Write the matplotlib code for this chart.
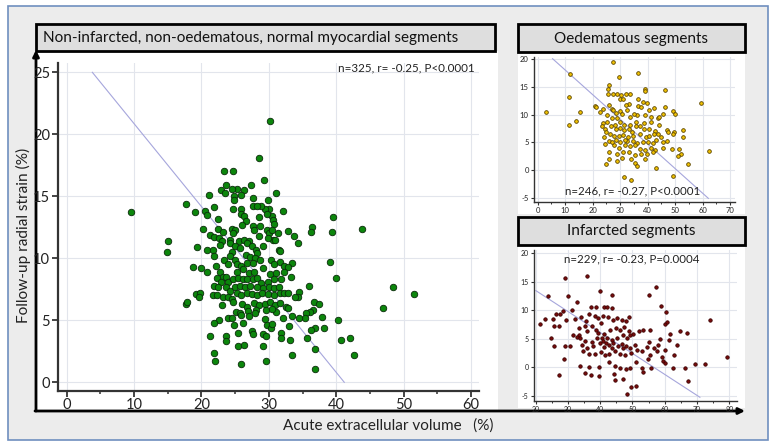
import numpy as np
import matplotlib
matplotlib.use('Agg')
import matplotlib.pyplot as plt
from matplotlib.patches import Rectangle

plt.rcParams['font.family'] = ['Lato', 'DejaVu Sans']
plt.rcParams['axes.unicode_minus'] = False

# ---------------- data ----------------
normal_title = "Non-infarcted, non-oedematous, normal myocardial segments"
oedema_title = "Oedematous segments"
infarct_title = "Infarcted segments"
normal_stat = "n=325, r= -0.25, P<0.0001"
oedema_stat = "n=246, r= -0.27, P<0.0001"
infarct_stat = "n=229, r= -0.23, P=0.0004"
x_label = "Acute extracellular volume   (%)"
y_label = "Follow-up radial strain (%)"

normal_pts = [
    (30.2,21.1),(28.6,18.1),(29.3,16.3),(23.3,17.0),(24.7,17.0),(17.7,14.4),(9.6,13.7),(15.0,11.4),(14.9,10.5),
    (19.3,10.9),(19.0,13.7),(21.1,15.1),(20.3,12.4),(18.7,9.3),(20.0,9.2),(20.8,8.9),(17.7,6.3),(17.9,6.5),
    (19.2,7.1),(19.8,7.2),(19.6,6.9),(21.2,3.7),(21.8,2.4),(22.0,1.7),(25.9,1.5),(29.6,1.7),(36.9,1.1),
    (36.9,2.7),(33.5,2.2),(42.7,2.2),(40.7,3.4),(42.0,3.6),(40.2,5.0),(46.9,6.0),(48.5,7.7),(51.6,7.1),
    (43.8,12.4),(39.5,13.3),(39.4,12.1),(36.4,12.5),(36.3,12.1),(39.1,9.7),(39.9,8.4),(35.9,7.8),(36.7,6.5),
    (37.5,6.3),(37.9,5.3),(38.2,4.4),(36.8,4.4),(36.3,4.2),(35.6,3.6),(36.6,5.8),(36.1,5.7),(35.5,5.6),
    (35.3,5.2),(34.5,5.2),(34.5,7.3),(34.3,6.9),(33.9,6.9),(33.3,8.5),(33.5,9.6),(32.9,12.2),(33.7,11.8),
    (34.4,11.2),(32.1,13.8),(31.1,15.3),(30.4,13.4),(29.9,14.7),(30.1,14.0),(29.5,14.0),(28.9,14.2),
    (27.6,14.2),(28.2,14.2),(27.3,15.9),(26.3,15.5),(25.3,15.6),(24.5,15.6),(23.6,15.9),(22.9,15.5),
    (23.5,15.3),(24.8,15.0),(24.8,14.7),(25.9,15.1),(27.6,14.9),(24.7,14.0),(21.8,14.1),(20.5,13.8),
    (20.8,13.5),(22.5,13.2),(25.8,14.0),(25.8,13.6),(26.3,13.4),(28.5,13.3),(29.7,13.6),(30.6,13.1),
    (30.7,12.8),(26.6,13.0),(26.0,12.7),(22.4,12.4),(23.2,12.1),(24.5,12.4),(25.0,12.3),(24.7,12.0),
    (27.6,12.6),(27.8,12.3),(28.7,12.6),(29.7,12.3),(30.0,12.0),(30.5,12.3),(31.3,12.0),(30.6,11.5),
    (29.9,11.6),(30.9,11.5),(28.5,11.8),(21.3,11.9),(21.8,11.7),(22.6,11.6),(23.1,11.4),(24.3,11.5),
    (25.6,11.4),(26.3,11.5),(27.0,11.4),(22.7,11.1),(24.3,11.2),(25.0,11.0),(26.7,11.2),(27.5,11.0),
    (29.2,11.0),(25.7,10.8),(20.8,10.7),(21.7,10.7),(24.5,10.5),(21.9,10.2),(23.4,9.9),(24.2,10.2),
    (25.0,9.9),(26.6,10.3),(27.2,10.1),(28.1,10.7),(28.3,10.4),(28.0,10.0),(28.7,9.9),(31.5,10.7),
    (31.7,10.6),(30.3,9.9),(30.8,9.5),(31.6,9.7),(32.3,9.4),(32.8,9.3),(32.2,8.9),(22.1,9.4),(23.9,9.5),
    (25.3,9.5),(25.8,9.4),(26.7,9.6),(27.7,9.6),(22.7,8.9),(23.2,8.5),(22.3,8.4),(23.6,8.5),(25.3,8.9),
    (26.1,9.1),(27.0,8.8),(27.8,8.9),(29.1,9.2),(30.2,8.7),(31.0,8.8),(31.8,8.3),(21.8,7.8),(22.9,8.1),
    (23.9,8.1),(24.75,8.3),(25.4,8.4),(26.1,8.3),(26.8,8.3),(27.6,8.3),(28.2,8.4),(28.8,8.0),(29.95,8.1),
    (30.7,8.3),(22.5,7.7),(23.6,7.7),(24.3,7.4),(25.0,7.7),(25.7,7.8),(26.4,7.7),(27.2,7.8),(28.3,7.7),
    (29.2,7.6),(30.1,7.7),(30.8,7.6),(31.5,7.7),(21.7,7.0),(22.3,7.0),(23.2,6.9),(23.9,6.9),(24.5,6.7),
    (25.35,7.2),(25.9,7.0),(26.7,7.2),(27.5,7.1),(28.2,7.0),(29.0,7.2),(29.9,7.1),(30.8,7.0),(31.6,7.2),
    (32.3,7.2),(32.8,7.2),(23.0,6.2),(24.75,6.5),(25.95,6.3),(26.7,6.1),(27.8,6.4),(28.5,6.2),(29.5,6.3),
    (30.2,6.5),(30.95,6.2),(31.7,6.4),(32.6,6.1),(29.6,5.8),(31.0,5.7),(30.4,5.9),(32.1,5.2),(32.8,6.0),
    (25.1,5.7),(25.7,5.6),(26.9,5.75),(28.1,5.8),(27.9,5.6),(23.9,5.2),(24.6,5.2),(22.6,5.0),(21.8,4.8),
    (24.9,4.6),(25.9,5.4),(26.2,4.8),(27.1,5.35),(29.5,5.1),(29.7,4.6),(30.3,4.35),(30.4,4.7),(33.0,4.5),
    (33.4,5.35),(25.4,4.0),(27.5,4.1),(27.6,3.9),(29.2,3.9),(29.6,3.7),(31.8,4.0),(31.8,3.6),(33.2,3.4),
    (23.6,3.7),(23.6,3.3),(25.45,2.9),(26.3,3.0),(29.1,2.9),
]

oedema_pts = [
    (27.3,19.4),(11.8,17.3),(36.4,17.4),(29.6,16.7),(11.3,13.2),(3.0,10.5),(11.4,8.1),(14.1,8.8),(15.3,10.5),
    (59.3,12.1),(62.5,3.5),(46.5,14.4),(39.1,14.5),(39.2,14.3),(26.0,15.3),(25.5,14.6),(27.5,13.7),(29.0,13.7),
    (30.2,13.5),(32.0,13.7),(33.6,13.7),(29.8,12.7),(30.9,12.7),(33.1,11.8),(25.4,13.6),(21.0,11.6),(21.1,11.3),
    (23.7,11.0),(26.1,11.7),(26.9,11.0),(22.7,10.5),(25.2,10.0),(27.4,10.8),(28.5,10.3),(30.0,10.6),(30.5,10.1),
    (32.0,11.7),(32.4,10.8),(33.6,9.6),(36.4,12.8),(36.6,11.6),(38.5,12.3),(39.7,12.1),(40.6,10.8),(42.3,11.1),
    (37.7,11.4),(36.3,10.0),(35.1,10.1),(39.2,9.9),(41.2,9.5),(43.6,9.4),(46.2,11.4),(49.3,10.6),(50.0,10.1),
    (45.6,10.1),(44.0,9.5),(41.1,8.6),(38.6,8.4),(35.8,8.7),(33.6,8.1),(34.3,6.9),(31.5,8.1),(30.0,8.7),
    (29.0,9.4),(27.2,9.3),(25.3,8.7),(23.8,8.4),(23.3,8.0),(24.5,7.4),(26.8,7.9),(28.1,8.2),(28.6,7.5),
    (30.0,7.6),(31.4,7.2),(33.1,7.4),(35.8,8.0),(37.2,7.9),(38.7,7.4),(40.5,7.4),(42.7,7.1),(44.0,8.2),
    (47.0,7.3),(47.4,6.9),(49.6,6.8),(53.0,7.2),(52.8,5.9),(49.3,6.6),(24.9,6.8),(26.3,6.5),(27.8,6.2),
    (29.5,6.2),(30.9,6.3),(32.9,6.0),(34.8,6.1),(37.2,6.5),(39.4,6.0),(40.6,6.2),(42.3,6.5),(43.8,6.6),
    (44.8,6.0),(24.3,6.0),(25.8,5.3),(28.4,5.4),(30.0,5.0),(32.4,5.3),(34.8,5.3),(36.3,4.85),(38.5,5.0),
    (40.3,5.1),(41.9,4.85),(43.1,5.45),(45.5,5.1),(47.2,5.3),(24.5,4.7),(27.8,4.5),(29.7,4.1),(31.7,4.6),
    (33.6,4.3),(35.5,4.6),(37.2,3.8),(39.1,3.6),(41.1,4.0),(42.8,3.6),(45.7,4.0),(48.7,3.9),(51.4,3.9),
    (52.0,3.0),(51.0,2.5),(54.8,1.1),(49.3,-1.0),(33.8,-1.7),(31.4,-1.1),(26.1,3.35),(28.7,2.9),(30.8,2.3),
    (33.2,3.35),(35.5,2.75),(37.7,3.0),(39.9,3.0),(42.1,3.35),(31.2,3.35),(24.9,1.1),(25.8,2.0),(29.0,1.65),
    (33.8,2.0),(35.5,1.25),(36.0,0.8),(39.2,2.0),(43.1,0.5),(31.9,5.5),(27.2,5.0),
]

infarct_pts = [
    (36.0,16.0),(29.2,15.65),(57.3,14.0),(55.0,12.7),(23.9,12.45),(30.1,12.45),(39.8,13.4),(43.6,12.6),
    (32.7,11.5),(58.7,10.75),(31.4,10.1),(28.6,9.9),(37.1,10.6),(38.6,10.6),(41.2,10.6),(42.2,10.6),
    (43.6,10.35),(60.5,9.6),(74.0,8.2),(21.5,7.55),(22.9,8.5),(25.3,8.4),(26.4,9.3),(27.7,9.3),(29.4,8.25),
    (25.7,7.2),(27.1,7.3),(24.8,5.2),(25.7,3.7),(29.2,3.8),(30.6,3.7),(28.8,1.5),(27.3,-1.4),(31.7,5.6),
    (33.3,5.6),(32.2,8.5),(34.2,8.8),(35.6,8.1),(36.4,9.3),(38.5,8.95),(39.4,8.6),(40.2,7.7),(40.9,8.9),
    (42.4,8.8),(44.0,8.3),(45.3,8.6),(46.7,8.3),(48.1,8.1),(49.0,8.8),(35.2,7.3),(37.4,7.3),(38.7,6.6),
    (33.5,6.9),(32.7,5.4),(35.8,6.3),(33.7,5.1),(39.3,6.0),(41.2,5.8),(43.0,6.6),(44.9,6.9),(46.1,6.6),
    (47.4,7.0),(48.8,6.4),(50.3,5.8),(51.9,6.4),(53.4,6.6),(55.4,6.5),(49.3,5.6),(48.3,5.1),(47.1,5.6),
    (45.3,5.1),(43.8,4.8),(42.2,5.1),(40.5,5.2),(39.0,5.1),(37.4,4.5),(35.4,4.65),(34.5,4.0),(35.8,3.4),
    (37.8,3.8),(39.9,4.2),(40.9,4.65),(41.7,4.3),(42.8,4.0),(44.1,4.2),(45.5,3.8),(46.7,4.1),(48.1,3.8),
    (49.4,3.4),(50.8,4.0),(55.2,4.5),(56.7,3.4),(57.9,4.0),(61.2,4.85),(63.7,3.9),(64.7,6.3),(67.0,6.0),
    (61.6,5.8),(60.0,7.5),(60.6,7.85),(34.8,2.8),(36.4,2.3),(38.5,2.4),(40.4,2.7),(41.4,2.2),(42.8,2.3),
    (44.5,2.8),(46.1,2.3),(47.8,2.2),(49.6,2.6),(51.3,3.0),(52.9,2.8),(54.6,3.6),(55.4,2.1),(54.8,1.4),
    (59.5,1.2),(60.2,0.75),(66.4,-0.1),(69.5,0.6),(72.4,0.6),(79.4,1.9),(57.5,2.9),(59.3,1.9),(36.6,0.0),
    (39.7,0.1),(42.6,0.9),(44.6,0.2),(46.3,-0.1),(48.1,-0.2),(49.4,-0.1),(51.1,0.9),(52.9,-0.1),(53.4,-0.8),
    (35.2,-1.05),(37.2,-1.4),(39.5,-1.5),(33.7,0.2),(44.3,-1.2),(44.7,-2.15),(47.2,-2.0),(49.6,-3.4),
    (51.1,-3.3),(48.2,-4.6),(55.7,-0.1),(62.5,-0.1),(62.9,2.1),(67.2,-2.4),(58.5,5.0),(60.0,3.0),(47.1,3.4),
    (43.6,3.4),(41.2,3.5),
]

# regression lines (end points)
normal_line_x = [3.8, 41.2]
normal_line_y = [25.0, 0.0]
oedema_line_x = [5.4, 62.1]
oedema_line_y = [20.0, -5.0]
infarct_line_x = [20.1, 70.9]
infarct_line_y = [13.4, -5.2]

normal_xticks = [0, 10, 20, 30, 40, 50, 60]
normal_yticks = [0, 5, 10, 15, 20, 25]
oedema_xticks = [0, 10, 20, 30, 40, 50, 60, 70]
oedema_yticks = [-5, 0, 5, 10, 15, 20]
infarct_xticks = [20, 30, 40, 50, 60, 70, 80]
infarct_yticks = [-5, 0, 5, 10, 15, 20]

# ---------------- figure ----------------
W, H = 778, 447
fig = plt.figure(figsize=(W / 100, H / 100), dpi=100)

bg = fig.add_axes([0, 0, 1, 1])
bg.set_xlim(0, W)
bg.set_ylim(H, 0)
bg.axis('off')


def box(l, t, r, b):
    return [l / W, 1 - b / H, (r - l) / W, (b - t) / H]


bg.add_patch(Rectangle((8, 6), 760, 434, facecolor='#ececec', edgecolor='#6f8fbf', lw=1.2))
bg.add_patch(Rectangle((36, 51), 462, 360, facecolor='white', edgecolor='none'))
bg.add_patch(Rectangle((518, 52), 227, 162, facecolor='white', edgecolor='none'))
bg.add_patch(Rectangle((518, 245), 227, 163, facecolor='white', edgecolor='none'))

# title boxes
bg.add_patch(Rectangle((36, 24), 459, 27, facecolor='#dedede', edgecolor='black', lw=2, zorder=3))
bg.add_patch(Rectangle((518, 24), 227, 28, facecolor='#dedede', edgecolor='black', lw=2, zorder=3))
bg.add_patch(Rectangle((518, 217), 227, 28, facecolor='#dedede', edgecolor='black', lw=2, zorder=3))
bg.text(43, 38, normal_title, fontsize=11, ha='left', va='center', color='#111111', zorder=4)
bg.text(631.5, 38.5, oedema_title, fontsize=11, ha='center', va='center', color='#111111', zorder=4)
bg.text(631.5, 231.5, infarct_title, fontsize=11, ha='center', va='center', color='#111111', zorder=4)

# L-shaped arrows
arrow = dict(arrowstyle='-|>', color='black', lw=2, mutation_scale=9, shrinkA=0, shrinkB=0)
bg.annotate('', xy=(36, 50), xytext=(36, 411), arrowprops=arrow)
bg.annotate('', xy=(745, 411), xytext=(35, 411), arrowprops=arrow)

# axis labels
bg.text(23, 235, y_label, fontsize=11.1, rotation=90, ha='center', va='center', color='#222222')
bg.text(494, 426, x_label, fontsize=11, ha='right', va='center', color='#222222')


def panel(rect, pts, xlim, ylim, xticks, yticks, lx, ly, color, edge, s, fs, spine_lw, tlen):
    ax = fig.add_axes(box(*rect))
    ax.set_facecolor('none')
    ax.set_xlim(*xlim)
    ax.set_ylim(*ylim)
    ax.set_xticks(xticks)
    ax.set_yticks(yticks)
    ax.set_xticks([t + 5 for t in xticks[:-1]], minor=True)
    ax.grid(True, which='major', color='#e2e5ec', lw=0.8)
    ax.set_axisbelow(True)
    for sp in ['top', 'right']:
        ax.spines[sp].set_visible(False)
    for sp in ['left', 'bottom']:
        ax.spines[sp].set_color('#333333')
        ax.spines[sp].set_linewidth(spine_lw)
    ax.tick_params(which='major', direction='out', length=tlen, width=spine_lw * 0.8,
                   color='#333333', labelsize=fs, labelcolor='#222222', pad=1.5)
    ax.tick_params(which='minor', direction='out', length=tlen * 0.6, width=spine_lw * 0.7,
                   color='#333333')
    ax.plot(lx, ly, color='#a6a6dc', lw=0.8, zorder=2)
    xs = [p[0] for p in pts]
    ys = [p[1] for p in pts]
    ax.scatter(xs, ys, s=s, c=color, edgecolors=edge, linewidths=0.6, zorder=3)
    return ax


ax1 = panel((57.7, 63, 479, 390.7), normal_pts, (-1.34, 61.2), (-0.68, 25.75),
            normal_xticks, normal_yticks, normal_line_x, normal_line_y,
            '#0c860c', '#0a2a0a', 22, 10.5, 1.6, 4)
ax1.text(0.99, 0.985, normal_stat, transform=ax1.transAxes, ha='right', va='center',
         fontsize=8.4, color='#222222')

ax2 = panel((534.3, 57, 735, 201.7), oedema_pts, (-1.24, 71.8), (-5.6, 20.3),
            oedema_xticks, oedema_yticks, oedema_line_x, oedema_line_y,
            '#f2c200', '#5a4400', 7, 5.5, 1.0, 2.5)
ax2.text(0.49, 0.075, oedema_stat, transform=ax2.transAxes, ha='center', va='center',
         fontsize=8.3, color='#222222')

ax3 = panel((534, 250, 737, 400.7), infarct_pts, (19.5, 82.4), (-5.8, 20.5),
            infarct_xticks, infarct_yticks, infarct_line_x, infarct_line_y,
            '#7a0c0c', '#3a0000', 6, 5.0, 1.0, 2.5)
ax3.text(0.48, 0.94, infarct_stat, transform=ax3.transAxes, ha='center', va='center',
         fontsize=8.3, color='#222222')

fig.savefig('out.png', dpi=100)
